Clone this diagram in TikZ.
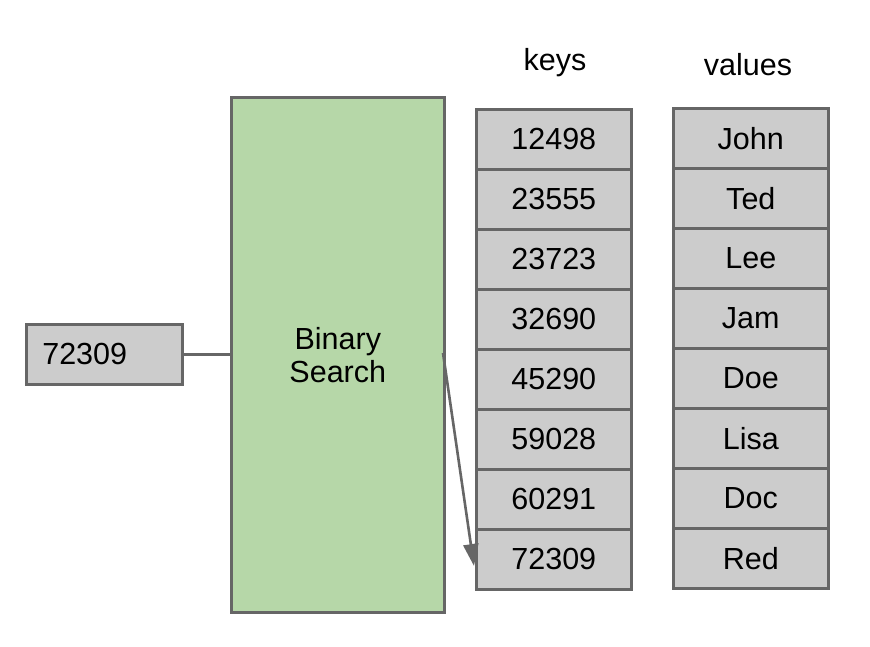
\documentclass[tikz,border=0pt]{standalone}
\usepackage{fontspec}
\setmainfont{Liberation Sans}
\usetikzlibrary{arrows.meta}
\definecolor{cellgray}{HTML}{CCCCCC}
\definecolor{edgegray}{HTML}{666666}
\definecolor{bsgreen}{HTML}{B6D7A8}
\begin{document}
\begin{tikzpicture}[x=1pt,y=-1pt,
  cell/.style={draw=edgegray,fill=cellgray,line width=2.6pt,minimum width=155pt,minimum height=60pt,inner sep=0pt,font=\fontsize{30.5}{33}\selectfont},
  lbl/.style={font=\fontsize{30.5}{33}\selectfont,inner sep=0pt},
  conn/.style={draw=edgegray,line width=2.6pt}]
\useasboundingbox (0,0) rectangle (870,646);
\node[draw=edgegray,fill=bsgreen,line width=2.6pt,minimum width=213pt,minimum height=515pt,inner sep=0pt,anchor=north west,align=center,font=\fontsize{30.5}{33}\selectfont] (bs) at (230,96) {Binary\\Search};
\node[cell,anchor=north west,minimum width=156pt,text width=124pt,align=left] (in) at (25,323) {72309};
\node[lbl] (keys) at (555,63) {keys};
\node[lbl] (vals) at (748,65) {values};
\foreach \k [count=\i] in {12498,23555,23723,32690,45290,59028,60291,72309}{
  \node[cell,anchor=north west] (k\i) at (475,{108+60*(\i-1)}) {\k};
}
\foreach \v [count=\i] in {John,Ted,Lee,Jam,Doe,Lisa,Doc,Red}{
  \node[cell,anchor=north west] (v\i) at (672,{107+60*(\i-1)}) {\v};
}
\draw[conn] (in.east) -- (in.east -| bs.west);
\coordinate (s) at (443,353);
\coordinate (t) at (474,566);
\draw[conn,-{Triangle[length=22pt,width=15pt]}] (s) -- (t);
\end{tikzpicture}
\end{document}
